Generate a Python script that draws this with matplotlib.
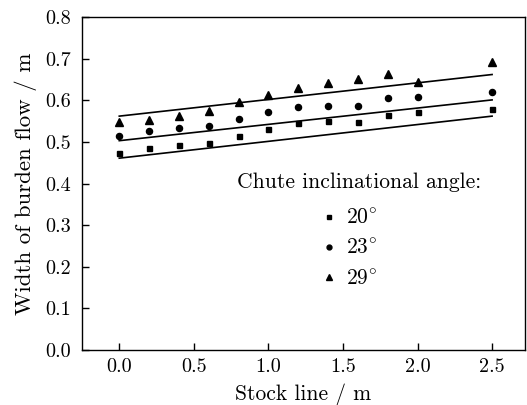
#!/usr/bin/env python3
import matplotlib
matplotlib.use("Agg")
import matplotlib.pyplot as plt

plt.rcParams["font.family"] = ["cmr10", "DejaVu Serif"]
plt.rcParams["mathtext.fontset"] = "cm"
plt.rcParams["axes.formatter.use_mathtext"] = True

# stock line positions (m)
stock = [0.0, 0.2, 0.4, 0.6, 0.8, 1.0, 1.2, 1.4, 1.6, 1.8, 2.0, 2.5]

# measured width of burden flow (m) per chute angle
w20 = [0.474, 0.485, 0.492, 0.498, 0.514, 0.530, 0.545, 0.550, 0.549, 0.565, 0.571, 0.579]
w23 = [0.515, 0.526, 0.533, 0.538, 0.555, 0.573, 0.585, 0.587, 0.587, 0.605, 0.609, 0.619]
w29 = [0.549, 0.553, 0.562, 0.575, 0.597, 0.613, 0.629, 0.641, 0.651, 0.663, 0.645, 0.693]

# fitted lines (end points)
fit_x = [0.0, 2.5]
fit20 = [0.461, 0.562]
fit23 = [0.503, 0.601]
fit29 = [0.562, 0.662]

labels = [r"20$^{\circ}$", r"23$^{\circ}$", r"29$^{\circ}$"]
xticks = [0.0, 0.5, 1.0, 1.5, 2.0, 2.5]
yticks = [0.0, 0.1, 0.2, 0.3, 0.4, 0.5, 0.6, 0.7, 0.8]

fig = plt.figure(figsize=(5.27, 4.05), dpi=100)
ax = fig.add_axes([0.1556, 0.1358, 0.8404, 0.822])

for fy in (fit20, fit23, fit29):
    ax.plot(fit_x, fy, color="black", lw=1.2)

h1, = ax.plot(stock, w20, ls="none", marker="s", ms=3.6, color="black")
h2, = ax.plot(stock, w23, ls="none", marker="o", ms=4.4, color="black")
h3, = ax.plot(stock, w29, ls="none", marker="^", ms=6.0, color="black")

ax.set_xlim(-0.25, 2.72)
ax.set_ylim(0.0, 0.8)
ax.set_xticks(xticks)
ax.set_yticks(yticks)
ax.set_xticklabels([f"{v:.1f}" for v in xticks])
ax.set_yticklabels([f"{v:.1f}" for v in yticks])
ax.tick_params(direction="in", length=5, width=1, labelsize=14.5)
ax.tick_params(axis="x", pad=6)
ax.tick_params(axis="y", pad=8)
for s in ax.spines.values():
    s.set_linewidth(1.0)

ax.set_xlabel("Stock line / m", fontsize=15.5, labelpad=5)
ax.set_ylabel("Width of burden flow / m", fontsize=16.5, labelpad=6)

ax.text(0.350, 0.505, "Chute inclinational angle:", transform=ax.transAxes,
        fontsize=15.5, va="center", ha="left")
ax.legend([h1, h2, h3], labels, loc="upper left", bbox_to_anchor=(0.51, 0.47),
          frameon=False, fontsize=15.5, handlelength=0.6, handletextpad=0.45,
          labelspacing=0.5, borderpad=0.2, markerscale=0.8)

fig.savefig("out.png", dpi=100)
